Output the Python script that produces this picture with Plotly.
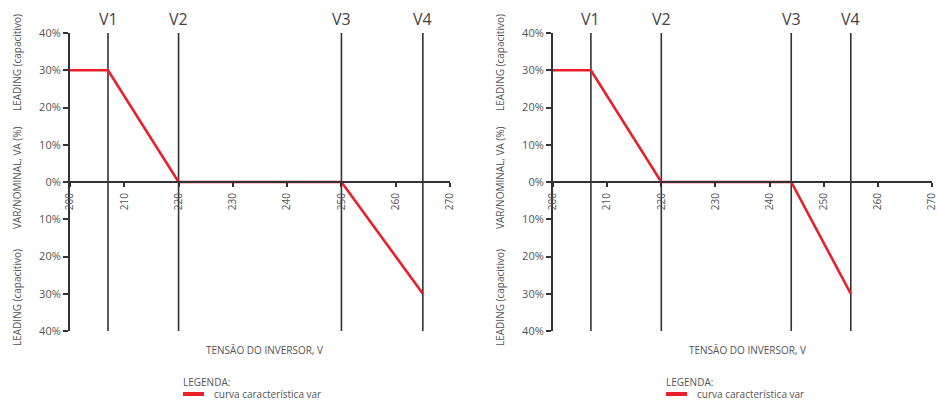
import plotly.graph_objects as go

# Volt-var characteristic curves for two inverter settings
voltage_a = [200, 207, 220, 250, 265]
var_a = [30, 30, 0, 0, -30]
setpoints_a = [207, 220, 250, 265]

voltage_b = [200, 207, 220, 244, 255]
var_b = [30, 30, 0, 0, -30]
setpoints_b = [207, 220, 244, 255]

setpoint_names = ["V1", "V2", "V3", "V4"]
y_tickvals = [40, 30, 20, 10, 0, -10, -20, -30, -40]
y_ticktext = ["40%", "30%", "20%", "10%", "0%", "10%", "20%", "30%", "40%"]
x_tickvals = [200, 210, 220, 230, 240, 250, 260, 270]

W, H = 938, 400
FONT = "Open Sans"
TXT = "#555555"
AX = "#333333"
RED = "#e8202a"

y_dom = [1 - 331 / H, 1 - 33 / H]
x_doms = [[70 / W, 450 / W], [553 / W, 932 / W]]

fig = go.Figure()
panels = [(voltage_a, var_a, setpoints_a), (voltage_b, var_b, setpoints_b)]

for i, (vx, vy, sp) in enumerate(panels):
    xa = "x" if i == 0 else "x2"
    ya = "y" if i == 0 else "y2"
    # setpoint verticals
    for v, name in zip(sp, setpoint_names):
        fig.add_trace(go.Scatter(x=[v, v], y=[-40, 40], mode="lines",
                                 line=dict(color=AX, width=1.6),
                                 xaxis=xa, yaxis=ya, showlegend=False, hoverinfo="skip"))
        fig.add_annotation(x=v, y=1 - 19 / H, xref=xa, yref="paper", text=name,
                           showarrow=False, font=dict(family=FONT, size=16, color="#444444"),
                           xanchor="center", yanchor="middle")
    fig.add_trace(go.Scatter(x=vx, y=vy, mode="lines", line=dict(color=RED, width=2.6),
                             xaxis=xa, yaxis=ya, showlegend=False,
                             name="curva característica var"))

    dom = x_doms[i]
    xkey = "xaxis" if i == 0 else "xaxis2"
    ykey = "yaxis" if i == 0 else "yaxis2"
    fig.update_layout(**{
        xkey: dict(domain=dom, range=[200, 270], anchor="free", automargin=False,
                   position=(y_dom[0] + y_dom[1]) / 2, showline=True, linecolor=AX,
                   linewidth=2, ticks="outside", ticklen=4, tickcolor=AX, tickwidth=1.5,
                   tickvals=x_tickvals, tickangle=-90, showgrid=False, zeroline=False,
                   ticklabelstandoff=2, ticklabeloverflow="allow",
                   tickfont=dict(family=FONT, size=10, color=TXT)),
        ykey: dict(domain=y_dom, range=[-40, 40], anchor=xa, automargin=False,
                   showline=True, linecolor=AX,
                   linewidth=2, ticks="outside", ticklen=5, tickcolor=AX, tickwidth=1.5,
                   tickvals=y_tickvals, ticktext=y_ticktext, showgrid=False, zeroline=False,
                   ticklabeloverflow="allow",
                   tickfont=dict(family=FONT, size=11, color=TXT)),
    })

    left = dom[0] * W
    # y-axis side captions
    for text, yc in [("LEADING (capacitivo)", 63), ("VAR/NOMINAL, VA (%)", 178),
                     ("LEADING (capacitivo)", 298)]:
        fig.add_annotation(x=(left - 53) / W, y=1 - yc / H, xref="paper", yref="paper",
                           text=text, textangle=-90, showarrow=False,
                           font=dict(family=FONT, size=10, color=TXT),
                           xanchor="center", yanchor="middle")
    # x-axis caption
    fig.add_annotation(x=(left + 194) / W, y=1 - 350 / H, xref="paper", yref="paper",
                       text="TENSÃO DO INVERSOR, V", showarrow=False,
                       font=dict(family=FONT, size=10, color=TXT),
                       xanchor="center", yanchor="middle")
    # legend block
    fig.add_annotation(x=(left + 111) / W, y=1 - 382 / H, xref="paper", yref="paper",
                       text="LEGENDA:", showarrow=False,
                       font=dict(family=FONT, size=10, color=TXT),
                       xanchor="left", yanchor="middle")
    fig.add_shape(type="line", xref="paper", yref="paper",
                  x0=(left + 113) / W, x1=(left + 134) / W,
                  y0=1 - 394 / H, y1=1 - 394 / H, line=dict(color=RED, width=4))
    fig.add_annotation(x=(left + 142) / W, y=1 - 394 / H, xref="paper", yref="paper",
                       text="curva característica var", showarrow=False,
                       font=dict(family=FONT, size=10, color=TXT),
                       xanchor="left", yanchor="middle")

fig.update_layout(width=W, height=H, margin=dict(l=0, r=0, t=0, b=0, autoexpand=False),
                  paper_bgcolor="white", plot_bgcolor="white", showlegend=False,
                  font=dict(family=FONT))

fig.write_html("out.html")
